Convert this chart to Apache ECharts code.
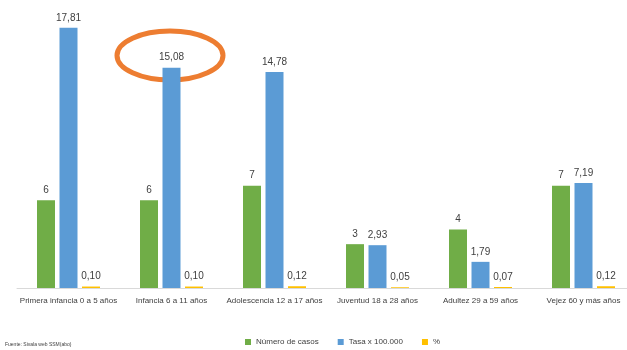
<!DOCTYPE html>
<html>
<head>
<meta charset="utf-8">
<script src="https://cdn.jsdelivr.net/npm/echarts@6/dist/echarts.min.js"></script>
<style>
  html, body { margin: 0; padding: 0; background: #fff; overflow: hidden; }
  #barChart { width: 640px; height: 350px; }
</style>
</head>
<body>
<div id="barChart"></div>
<script>
// datos del grafico
var categorias = [
  "Primera infancia 0 a 5 años",
  "Infancia 6 a 11 años",
  "Adolescencia 12 a 17 años",
  "Juventud 18 a 28 años",
  "Adultez 29 a 59 años",
  "Vejez 60 y más años"
];
var numeroCasos = [6, 6, 7, 3, 4, 7];
var tasa = [17.81, 15.08, 14.78, 2.93, 1.79, 7.19];
var porcentaje = [0.10, 0.10, 0.12, 0.05, 0.07, 0.12];

var fuente = "'Liberation Sans', sans-serif";

function coma(v) {
  return v.toFixed(2).replace(".", ",");
}

var chartDom = document.getElementById("barChart");
var myChart = echarts.init(chartDom);
var option;

var etiqueta = {
  show: true,
  position: "top",
  distance: 5,
  color: "#404040",
  fontSize: 10,
  fontFamily: fuente
};

option = {
  animation: false,
  legend: {
    data: ["Número de casos", "Tasa x 100.000", "%"],
    left: 240,
    top: 333,
    itemWidth: 6,
    itemHeight: 6,
    itemGap: 19,
    icon: "rect",
    textStyle: { fontSize: 8, color: "#404040", fontFamily: fuente }
  },
  grid: {
    left: 17,
    width: 618,
    top: 25,
    bottom: 62,
    containLabel: false
  },
  xAxis: {
    type: "category",
    data: categorias,
    axisLine: { lineStyle: { color: "#d9d9d9" } },
    axisTick: { show: false },
    axisLabel: {
      interval: 0,
      margin: 9,
      fontSize: 8,
      color: "#404040",
      fontFamily: fuente
    }
  },
  yAxis: {
    type: "value",
    min: 0,
    max: 18,
    show: false,
    splitLine: { show: false }
  },
  graphic: [
    {
      type: "ellipse",
      shape: { cx: 170, cy: 55.5, rx: 53, ry: 24.5 },
      style: { fill: "none", stroke: "#ED7D31", lineWidth: 5 }
    },
    {
      type: "text",
      left: 5,
      top: 342,
      style: {
        text: "Fuente: Sivala web SSM(abo)",
        fontSize: 5,
        fill: "#404040",
        fontFamily: fuente
      }
    }
  ],
  series: [
    {
      name: "Número de casos",
      type: "bar",
      barWidth: 18,
      barGap: "25%",
      itemStyle: { color: "#70AD47" },
      label: etiqueta,
      data: numeroCasos
    },
    {
      name: "Tasa x 100.000",
      type: "bar",
      barWidth: 18,
      barGap: "25%",
      itemStyle: { color: "#5B9BD5" },
      label: Object.assign({}, etiqueta, {
        formatter: function (p) { return coma(p.value); }
      }),
      data: tasa
    },
    {
      name: "%",
      type: "bar",
      barWidth: 18,
      barGap: "25%",
      itemStyle: { color: "#FFC000" },
      label: Object.assign({}, etiqueta, {
        formatter: function (p) { return coma(p.value); }
      }),
      data: porcentaje
    }
  ]
};

myChart.setOption(option);
</script>
</body>
</html>
